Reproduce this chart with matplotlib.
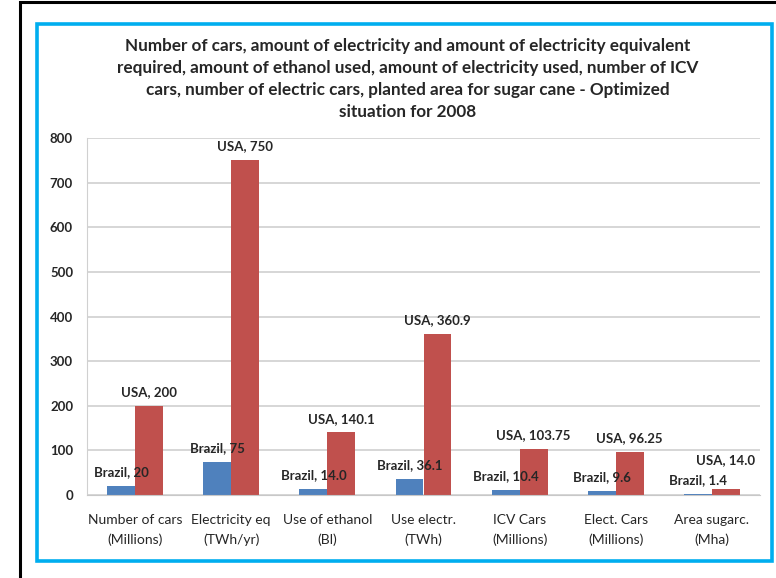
import numpy as np
import matplotlib.pyplot as plt
from matplotlib.patches import Rectangle

plt.rcParams['font.family'] = ['Lato', 'DejaVu Sans']

categories = ['Number of cars\n(Millions)', 'Electricity eq\n(TWh/yr)', 'Use of ethanol\n(Bl)',
              'Use electr.\n(TWh)', 'ICV Cars\n(Millions)', 'Elect. Cars\n(Millions)',
              'Area sugarc.\n(Mha)']
brazil = [20, 75, 14.0, 36.1, 10.4, 9.6, 1.4]
usa = [200, 750, 140.1, 360.9, 103.75, 96.25, 14.0]
brazil_text = ['20', '75', '14.0', '36.1', '10.4', '9.6', '1.4']
usa_text = ['200', '750', '140.1', '360.9', '103.75', '96.25', '14.0']

fig = plt.figure(figsize=(7.76, 5.78), dpi=100)

# black frame and blue chart border
fig.patches.append(Rectangle((20 / 776, -0.1), 1.2, 1 - 2 / 578 + 0.1, transform=fig.transFigure,
                             fill=False, edgecolor='black', linewidth=2.2))
fig.patches.append(Rectangle((37 / 776, 1 - 561 / 578), (772 - 37) / 776, (561 - 24) / 578,
                             transform=fig.transFigure, fill=False, edgecolor='#00AEEF', linewidth=2.6))

ax = fig.add_axes([87 / 776, 83 / 578, 673 / 776, 357 / 578])

x = np.arange(len(categories))
w = 0.29
b1 = ax.bar(x - w / 2, brazil, w, color='#4F81BD')
b2 = ax.bar(x + w / 2, usa, w, color='#C0504D')

for i, bar in enumerate(b1):
    ax.annotate(f'Brazil, {brazil_text[i]}', (bar.get_x() + bar.get_width() / 2, bar.get_height()),
                xytext=(0, 10), textcoords='offset points', ha='center', va='center',
                fontsize=9.5, fontweight='bold', color='#262626')
for i, bar in enumerate(b2):
    dy = 21 if i == len(b2) - 1 else 10
    ax.annotate(f'USA, {usa_text[i]}', (bar.get_x() + bar.get_width() / 2, bar.get_height()),
                xytext=(0, dy), textcoords='offset points', ha='center', va='center',
                fontsize=9.5, fontweight='bold', color='#262626')

ax.set_xlim(-0.5, len(categories) - 0.5)
ax.set_ylim(0, 800)
ax.set_yticks(range(0, 801, 100))
ax.yaxis.grid(True, color='#D0D0D0', linewidth=1.2)
ax.set_axisbelow(True)
for s in ['top', 'right']:
    ax.spines[s].set_visible(False)
ax.spines['left'].set_color('#D0D0D0')
ax.spines['bottom'].set_color('#C8C8C8')
ax.tick_params(length=0)
ax.tick_params(axis='y', pad=10)
ax.tick_params(axis='x', pad=14)
ax.set_xticks(x)
ax.set_xticklabels(categories, fontsize=10, color='#262626', linespacing=1.65)
for t in ax.get_yticklabels():
    t.set_fontweight('bold')
    t.set_fontsize(9.5)
    t.set_color('#262626')

fig.text(0.525, 1 - 79 / 578,
         'Number of cars, amount of electricity and amount of electricity equivalent\n'
         'required, amount of ethanol used, amount of electricity used, number of ICV\n'
         'cars, number of electric cars, planted area for sugar cane - Optimized\n'
         'situation for 2008',
         ha='center', va='center', fontsize=12.3, fontweight='bold', color='#262626', linespacing=1.45)

fig.savefig('out.png', dpi=100)
